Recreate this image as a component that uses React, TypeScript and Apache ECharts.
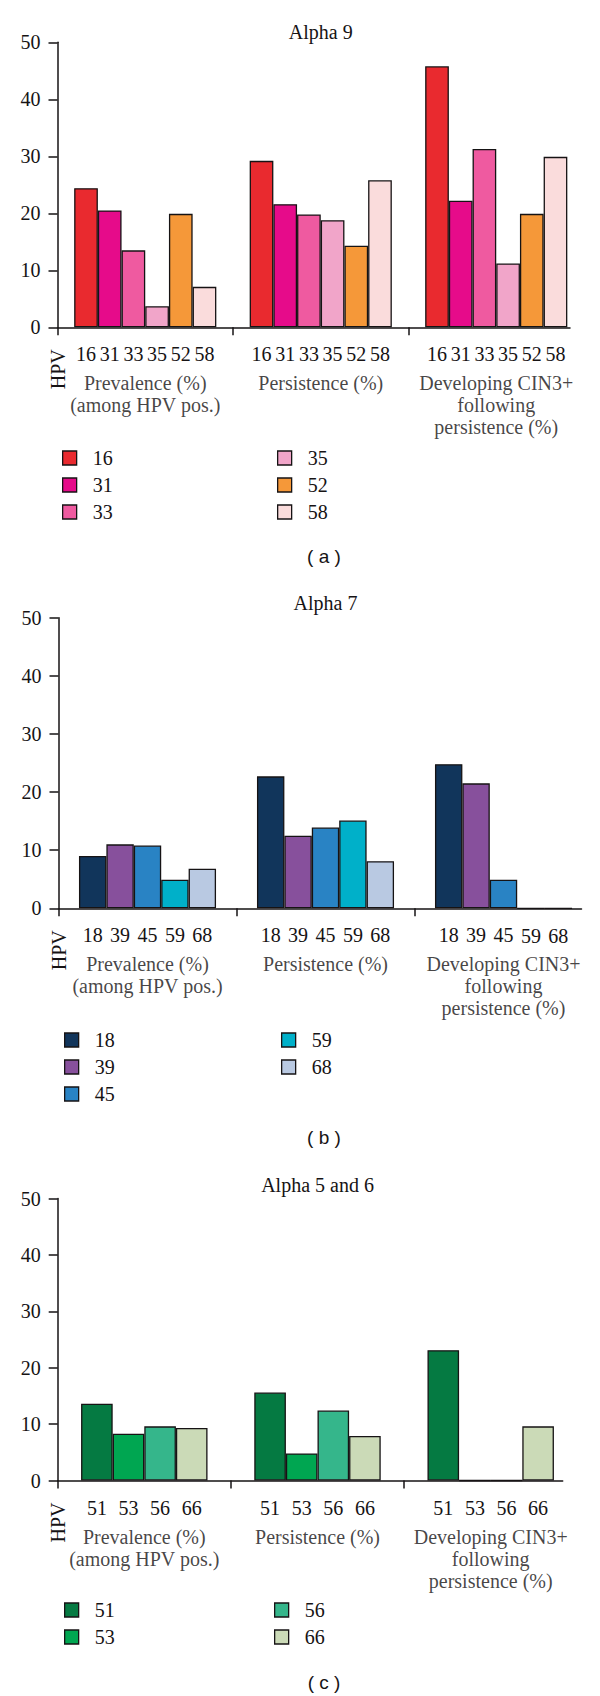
import React, { useEffect, useRef } from "react";
import * as echarts from "echarts";

// ---------- data ----------
const groupNames = [
  "Prevalence (%)\n(among HPV pos.)",
  "Persistence (%)",
  "Developing CIN3+\nfollowing\npersistence (%)",
];
const groupPositions = [0.5, 1.5, 2.5];
const yTicks = [0, 10, 20, 30, 40, 50];

const alpha9Types = ["16", "31", "33", "35", "52", "58"];
const alpha9Colors = ["#e92a2f", "#e60b8a", "#ef5aa0", "#f1a5c9", "#f59839", "#fadcdc"];
const alpha9Values = [
  [24.4, 29.2, 45.8],
  [20.5, 21.6, 22.2],
  [13.5, 19.8, 31.3],
  [3.7, 18.8, 11.2],
  [19.9, 14.3, 19.9],
  [7.1, 25.8, 29.9],
];

const alpha7Types = ["18", "39", "45", "59", "68"];
const alpha7Colors = ["#11355b", "#87509c", "#2983c4", "#00b0c9", "#b9c9e2"];
const alpha7Values = [
  [9.0, 22.7, 24.8],
  [11.0, 12.5, 21.5],
  [10.8, 13.9, 4.9],
  [4.9, 15.1, 0],
  [6.8, 8.1, 0],
];

const alpha56Types = ["51", "53", "56", "66"];
const alpha56Colors = ["#057a42", "#00a651", "#35b68b", "#cbdab7"];
const alpha56Values = [
  [13.6, 15.6, 23.1],
  [8.3, 4.8, 0],
  [9.6, 12.4, 0],
  [9.3, 7.9, 9.6],
];

const panelTitles = ["Alpha 9", "Alpha 7", "Alpha 5 and 6"];
const panelCaptions = ["( a )", "( b )", "( c )"];
const legendSplit = [
  [alpha9Types.slice(0, 3), alpha9Types.slice(3)],
  [alpha7Types.slice(0, 3), alpha7Types.slice(3)],
  [alpha56Types.slice(0, 2), alpha56Types.slice(2)],
];

// ---------- layout (not data) ----------
const layouts = [
  { left: 57.5, top: 42.3, height: 285, catW: 175.5, axisEnd: 570, gap: "19%", titleY: 32, legendTop: 443, legendLeft: 57, legendCol2: 272, captionY: 556 },
  { left: 58.5, top: 617.7, height: 290.6, catW: 178, axisEnd: 581.5, gap: "23%", titleY: 603, legendTop: 1025, legendLeft: 59, legendCol2: 276, captionY: 1137 },
  { left: 57.7, top: 1198.5, height: 282, catW: 173.2, axisEnd: 562.7, gap: "27%", titleY: 1185, legendTop: 1595, legendLeft: 59, legendCol2: 269, captionY: 1682 },
];

const INK = "#161314";
const SERIF = "'Liberation Serif', 'Times New Roman', serif";
const SANS = "'Liberation Sans', Arial, sans-serif";

export default function App() {
  const ref = useRef<HTMLDivElement>(null);

  useEffect(() => {
    document.body.style.margin = "0";
    if (!ref.current) return;
    const chart = echarts.init(ref.current, undefined, { renderer: "svg" });

    const panels = [
      { types: alpha9Types, colors: alpha9Colors, values: alpha9Values },
      { types: alpha7Types, colors: alpha7Colors, values: alpha7Values },
      { types: alpha56Types, colors: alpha56Colors, values: alpha56Values },
    ];

    const grid: any[] = [];
    const xAxis: any[] = [];
    const yAxis: any[] = [];
    const series: any[] = [];
    const legend: any[] = [];
    const graphic: any[] = [];

    panels.forEach((p, i) => {
      const L = layouts[i];
      const width = L.axisEnd - L.left;
      grid.push({ left: L.left, top: L.top, width, height: L.height, containLabel: false });
      xAxis.push({
        type: "value",
        gridIndex: i,
        min: 0,
        max: width / L.catW,
        interval: 1,
        axisLine: { show: true, lineStyle: { color: INK, width: 1.5 } },
        axisTick: { show: true, length: 8, customValues: [0, 1, 2], lineStyle: { color: INK, width: 1.5 } },
        axisLabel: { show: false },
        splitLine: { show: false },
      });
      yAxis.push({
        type: "value",
        gridIndex: i,
        min: 0,
        max: 50,
        interval: 10,
        axisLine: { show: true, lineStyle: { color: INK, width: 1.5 } },
        axisTick: { show: true, length: 9, lineStyle: { color: INK, width: 1.5 } },
        axisLabel: {
          show: true,
          margin: 17,
          fontSize: 20,
          fontFamily: SERIF,
          color: INK,
          formatter: (v: number) => (yTicks.includes(v) ? String(v) : ""),
        },
        splitLine: { show: false },
      });

      p.types.forEach((t, j) => {
        series.push({
          name: t,
          type: "bar",
          xAxisIndex: i,
          yAxisIndex: i,
          data: groupPositions.map((x, k) => [x, p.values[j][k]]),
          barGap: "0%",
          barCategoryGap: L.gap,
          itemStyle: { color: p.colors[j], borderColor: INK, borderWidth: 1.3 },
          label: {
            show: true,
            position: "bottom",
            distance: 17,
            formatter: t,
            fontSize: 20,
            fontFamily: SERIF,
            color: INK,
          },
          emphasis: { disabled: true },
        });
      });

      series.push({
        type: "scatter",
        xAxisIndex: i,
        yAxisIndex: i,
        data: groupPositions.map((x) => [x, 0]),
        symbolSize: 0,
        silent: true,
        label: {
          show: true,
          position: "bottom",
          distance: 45,
          formatter: (prm: any) => groupNames[prm.dataIndex],
          fontSize: 20,
          lineHeight: 22,
          fontFamily: SERIF,
          color: INK,
          align: "center",
        },
      });

      legendSplit[i].forEach((names, c) => {
        legend.push({
          orient: "vertical",
          left: c === 0 ? L.legendLeft : L.legendCol2,
          top: L.legendTop,
          data: names,
          icon: "rect",
          itemWidth: 14,
          itemHeight: 14,
          itemGap: 7,
          selectedMode: false,
          itemStyle: { borderColor: INK, borderWidth: 1.3 },
          textStyle: { fontSize: 20, fontFamily: SERIF, color: INK, padding: [0, 0, 0, 11] },
        });
      });

      const cx = L.left + 1.5 * L.catW;
      const axisY = L.top + L.height;
      graphic.push({
        type: "text",
        x: cx,
        y: L.titleY,
        style: { text: panelTitles[i], fontSize: 20, fontFamily: SERIF, fill: INK, align: "center", verticalAlign: "middle" },
      });
      graphic.push({
        type: "text",
        x: 324,
        y: L.captionY,
        style: { text: panelCaptions[i], fontSize: 19, fontFamily: SANS, fill: INK, align: "center", verticalAlign: "middle" },
      });
      graphic.push({
        type: "text",
        x: L.left,
        y: axisY + 42,
        rotation: Math.PI / 2,
        style: { text: "HPV", fontSize: 20, fontFamily: SERIF, fill: INK, align: "center", verticalAlign: "middle" },
      });
    });

    chart.setOption({
      animation: false,
      backgroundColor: "#ffffff",
      grid,
      xAxis,
      yAxis,
      series,
      legend,
      graphic,
    });

    return () => chart.dispose();
  }, []);

  return <div ref={ref} style={{ width: 600, height: 1696 }} />;
}
